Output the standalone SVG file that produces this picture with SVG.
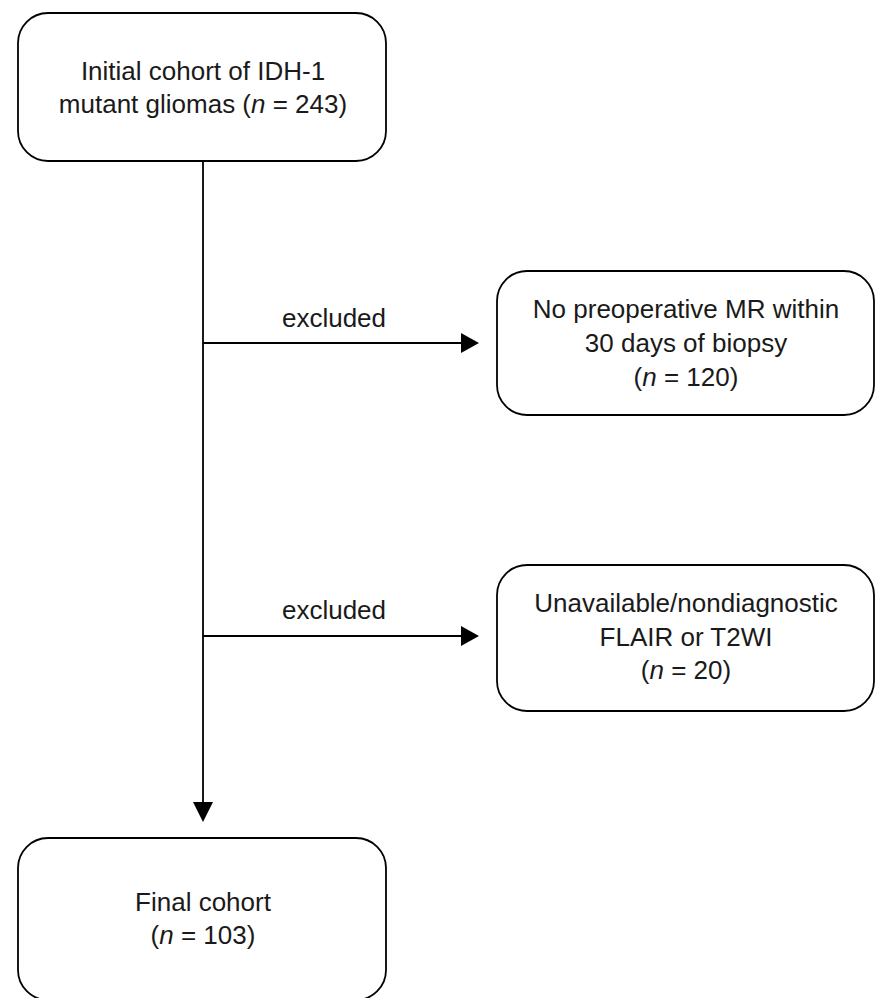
<svg xmlns="http://www.w3.org/2000/svg" width="876" height="998" viewBox="0 0 876 998">
<defs>
<style>
.box{fill:#fff;stroke:#000;stroke-width:1.8}
.t{font-family:"Liberation Sans",Arial,sans-serif;font-size:26px;fill:#1a1a1a;text-anchor:middle}
.i{font-style:italic}
.c{stroke:#000;stroke-width:1.8;fill:none}
</style>
</defs>
<rect width="876" height="998" fill="#fff"/>
<g id="connectors">
<path class="c" d="M203,161 V803"/>
<path d="M193,802 L213,802 L203,822 z" fill="#000"/>
<path class="c" d="M203,343 H462"/>
<path d="M461,333 L479,343 L461,353 z" fill="#000"/>
<path class="c" d="M203,636 H462"/>
<path d="M461,626 L479,636 L461,646 z" fill="#000"/>
<text class="t" x="334" y="327">excluded</text>
<text class="t" x="334" y="619">excluded</text>
</g>
<g id="n1">
<rect class="box" x="18" y="13" width="368" height="148" rx="30" ry="30"/>
<text class="t" x="203" y="80">Initial cohort of IDH-1</text>
<text class="t" x="203" y="113">mutant gliomas (<tspan class="i">n</tspan> = 243)</text>
</g>
<g id="n2">
<rect class="box" x="497" y="271" width="377" height="144" rx="30" ry="30"/>
<text class="t" x="686" y="318">No preoperative MR within</text>
<text class="t" x="686" y="352">30 days of biopsy</text>
<text class="t" x="686" y="386">(<tspan class="i">n</tspan> = 120)</text>
</g>
<g id="n3">
<rect class="box" x="497" y="565" width="377" height="146" rx="30" ry="30"/>
<text class="t" x="686" y="612">Unavailable/nondiagnostic</text>
<text class="t" x="686" y="646">FLAIR or T2WI</text>
<text class="t" x="686" y="679">(<tspan class="i">n</tspan> = 20)</text>
</g>
<g id="n4">
<rect class="box" x="18" y="838" width="368" height="162" rx="30" ry="30"/>
<text class="t" x="203" y="911">Final cohort</text>
<text class="t" x="203" y="944">(<tspan class="i">n</tspan> = 103)</text>
</g>
</svg>
